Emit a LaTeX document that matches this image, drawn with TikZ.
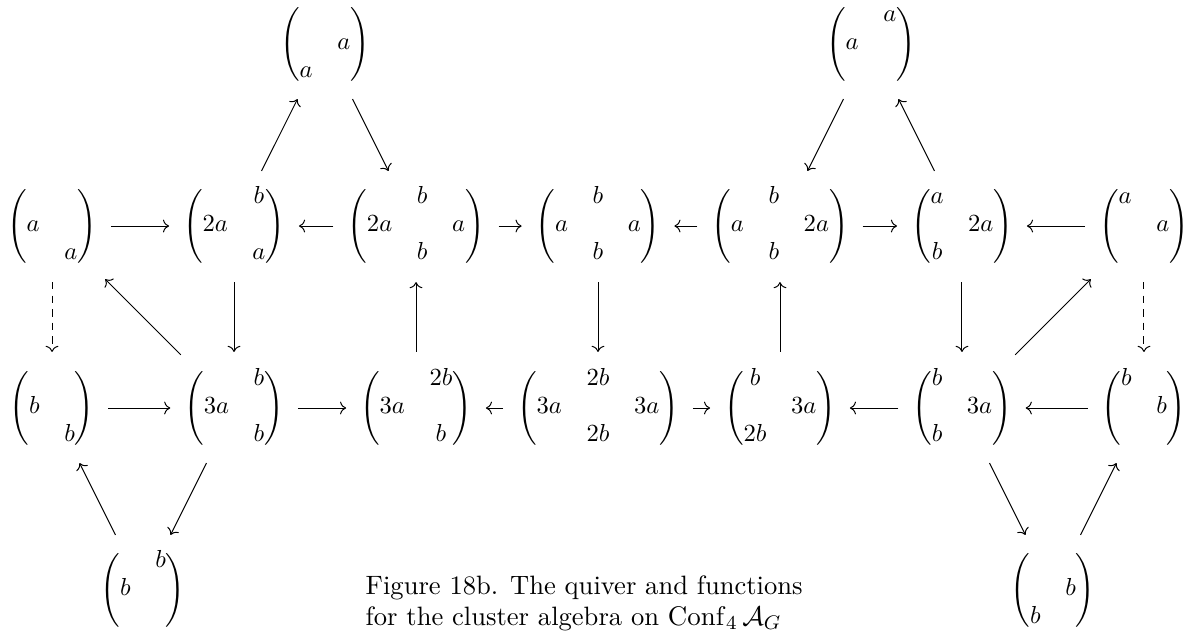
\documentclass[tikz,border=0pt]{standalone}
\usepackage{amsmath, amssymb}
\usepackage{tikz}
\usetikzlibrary{arrows.meta}
\renewcommand{\arraystretch}{0.95}
\delimiterfactor=800
\delimitershortfall=7pt

\begin{document}
\begin{tikzpicture}[
  x=2.6cm, y=2.6cm,
  mat/.style={inner sep=1.5pt},
  figtext/.style={align=left, inner sep=3.33pt, font=\fontsize{10.8}{12.6}\selectfont},
  flow/.style={-{Computer Modern Rightarrow}, line width=0.4pt,
               shorten >=4pt, shorten <=4pt},
  dflow/.style={flow, dash pattern=on 3pt off 2.5pt}
]
\useasboundingbox (-0.286,-2.236) rectangle (6.286,1.242);
% top
\node[mat] (top1) at (1.5,1) {$\begin{pmatrix} & \\ & a\\ a & \end{pmatrix}$};
\node[mat] (top2) at (4.5,1) {$\begin{pmatrix} & a\\ a & \\ & \end{pmatrix}$};
% middle row
\node[mat] (m1) at (0,0) {$\begin{pmatrix} & \\ a & \\ & a\end{pmatrix}$};
\node[mat] (m2) at (1,0) {$\begin{pmatrix} & b\\ 2a & \\ & a\end{pmatrix}$};
\node[mat] (m3) at (2,0) {$\begin{pmatrix} & b & \\ 2a & & a\\ & b & \end{pmatrix}$};
\node[mat] (m4) at (3,0) {$\begin{pmatrix} & b & \\ a & & a\\ & b & \end{pmatrix}$};
\node[mat] (m5) at (4,0) {$\begin{pmatrix} & b & \\ a & & 2a\\ & b & \end{pmatrix}$};
\node[mat] (m6) at (5,0) {$\begin{pmatrix} a & \\ & 2a\\ b & \end{pmatrix}$};
\node[mat] (m7) at (6,0) {$\begin{pmatrix} a & \\ & a\\ & \end{pmatrix}$};
% lower row
\node[mat] (n1) at (0,-1) {$\begin{pmatrix} & \\ b & \\ & b\end{pmatrix}$};
\node[mat] (n2) at (1,-1) {$\begin{pmatrix} & b\\ 3a & \\ & b\end{pmatrix}$};
\node[mat] (n3) at (2,-1) {$\begin{pmatrix} & 2b\\ 3a & \\ & b\end{pmatrix}$};
\node[mat] (n4) at (3,-1) {$\begin{pmatrix} & 2b & \\ 3a & & 3a\\ & 2b & \end{pmatrix}$};
\node[mat] (n5) at (4,-1) {$\begin{pmatrix} b & \\ & 3a\\ 2b & \end{pmatrix}$};
\node[mat] (n6) at (5,-1) {$\begin{pmatrix} b & \\ & 3a\\ b & \end{pmatrix}$};
\node[mat] (n7) at (6,-1) {$\begin{pmatrix} b & \\ & b\\ & \end{pmatrix}$};
% bottom
\node[mat] (bot1) at (0.5,-2) {$\begin{pmatrix} & b\\ b & \\ & \end{pmatrix}$};
\node[mat] (bot2) at (5.5,-2) {$\begin{pmatrix} & \\ & b\\ b & \end{pmatrix}$};
\node[figtext, anchor=north west] (fig) at (1.676,-1.874) {Figure 18b. The quiver and functions\\for the cluster algebra on $\mathrm{Conf}_4\,\mathcal{A}_G$};
% arrows
\draw[flow] (m1) -- (m2);
\draw[flow] (m3) -- (m2);
\draw[flow] (m3) -- (m4);
\draw[flow] (m5) -- (m4);
\draw[flow] (m5) -- (m6);
\draw[flow] (m7) -- (m6);
\draw[flow] (m2) -- (top1);
\draw[flow] (top1) -- (m3);
\draw[flow] (top2) -- (m5);
\draw[flow] (m6) -- (top2);
\draw[dflow] (m1) -- (n1);
\draw[flow] (m2) -- (n2);
\draw[flow] (n3) -- (m3);
\draw[flow] (m4) -- (n4);
\draw[flow] (n5) -- (m5);
\draw[flow] (m6) -- (n6);
\draw[dflow] (m7) -- (n7);
\draw[flow] (n2) -- (m1);
\draw[flow] (n6) -- (m7);
\draw[flow] (n1) -- (n2);
\draw[flow] (n2) -- (n3);
\draw[flow] (n4) -- (n3);
\draw[flow] (n4) -- (n5);
\draw[flow] (n6) -- (n5);
\draw[flow] (n7) -- (n6);
\draw[flow] (n2) -- (bot1);
\draw[flow] (bot1) -- (n1);
\draw[flow] (n6) -- (bot2);
\draw[flow] (bot2) -- (n7);
\end{tikzpicture}
\end{document}
